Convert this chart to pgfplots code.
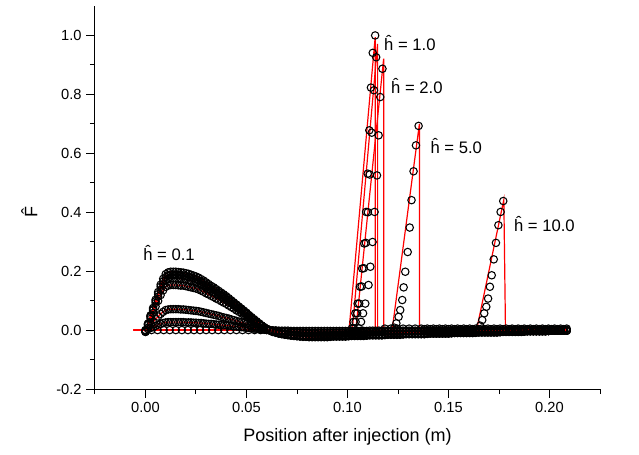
\documentclass[border=0pt]{standalone}
\usepackage{fontspec}
\setmainfont{Liberation Sans}
\usepackage{pgfplots}
\usepackage{pgfplotstable}
\pgfplotsset{compat=1.18}

% low-h curves (h = 0.1 family), same x grid
\pgfplotstableread{
x       a      b      c      d      e      f
0.00000 -0.006 -0.006 -0.005 -0.005 -0.002 -0.001
0.00125 0.022 0.021 0.019 0.017 0.008 0.003
0.00250 0.050 0.047 0.044 0.038 0.018 0.007
0.00375 0.075 0.071 0.067 0.058 0.027 0.010
0.00500 0.103 0.098 0.092 0.080 0.037 0.014
0.00625 0.129 0.122 0.114 0.099 0.046 0.018
0.00750 0.154 0.147 0.137 0.119 0.055 0.021
0.00875 0.174 0.165 0.155 0.135 0.062 0.024
0.01000 0.190 0.180 0.169 0.147 0.068 0.026
0.01125 0.196 0.186 0.174 0.151 0.070 0.027
0.01250 0.198 0.188 0.176 0.153 0.071 0.027
0.01375 0.198 0.188 0.176 0.153 0.071 0.027
0.01500 0.198 0.188 0.176 0.153 0.071 0.027
0.01625 0.197 0.187 0.175 0.152 0.071 0.027
0.01750 0.196 0.186 0.174 0.151 0.070 0.027
0.01875 0.195 0.185 0.173 0.151 0.070 0.027
0.02000 0.193 0.183 0.172 0.149 0.069 0.026
0.02125 0.191 0.181 0.169 0.147 0.068 0.026
0.02250 0.188 0.179 0.167 0.145 0.067 0.026
0.02375 0.185 0.176 0.165 0.143 0.066 0.025
0.02500 0.182 0.173 0.162 0.141 0.065 0.025
0.02625 0.178 0.169 0.158 0.138 0.064 0.024
0.02750 0.173 0.165 0.154 0.134 0.062 0.024
0.02875 0.168 0.160 0.150 0.130 0.060 0.023
0.03000 0.162 0.154 0.144 0.125 0.058 0.022
0.03125 0.156 0.149 0.139 0.121 0.056 0.021
0.03250 0.150 0.143 0.134 0.116 0.054 0.021
0.03375 0.145 0.137 0.128 0.112 0.052 0.020
0.03500 0.139 0.132 0.123 0.107 0.050 0.019
0.03625 0.133 0.126 0.118 0.103 0.048 0.018
0.03750 0.127 0.120 0.113 0.098 0.045 0.017
0.03875 0.121 0.115 0.107 0.093 0.043 0.016
0.04000 0.115 0.109 0.102 0.089 0.041 0.016
0.04125 0.108 0.102 0.096 0.083 0.039 0.015
0.04250 0.101 0.096 0.090 0.078 0.036 0.014
0.04375 0.094 0.089 0.084 0.073 0.034 0.013
0.04500 0.087 0.083 0.077 0.067 0.031 0.012
0.04625 0.080 0.076 0.071 0.062 0.029 0.011
0.04750 0.073 0.070 0.065 0.057 0.026 0.010
0.04875 0.066 0.063 0.059 0.051 0.024 0.009
0.05000 0.059 0.056 0.053 0.046 0.021 0.008
0.05125 0.051 0.049 0.046 0.040 0.018 0.007
0.05250 0.044 0.041 0.039 0.034 0.016 0.006
0.05375 0.037 0.035 0.033 0.028 0.013 0.005
0.05500 0.030 0.028 0.026 0.023 0.011 0.004
0.05625 0.023 0.022 0.020 0.018 0.008 0.003
0.05750 0.016 0.015 0.014 0.012 0.006 0.002
0.05875 0.010 0.009 0.009 0.008 0.004 0.001
0.06000 0.004 0.004 0.004 0.003 0.001 0.001
0.06150 -0.001 -0.001 -0.001 -0.001 0.000 0.000
0.0630 -0.006 -0.006 -0.005 -0.005 -0.002 -0.001
0.0645 -0.009 -0.008 -0.008 -0.007 -0.003 -0.001
0.0660 -0.012 -0.011 -0.011 -0.009 -0.004 -0.002
0.0675 -0.014 -0.013 -0.012 -0.011 -0.005 -0.002
0.0690 -0.016 -0.015 -0.014 -0.012 -0.006 -0.002
0.0705 -0.017 -0.017 -0.015 -0.013 -0.006 -0.002
0.0720 -0.019 -0.018 -0.017 -0.015 -0.007 -0.003
0.0735 -0.020 -0.019 -0.018 -0.015 -0.007 -0.003
0.0750 -0.021 -0.020 -0.018 -0.016 -0.007 -0.003
0.0765 -0.022 -0.021 -0.019 -0.017 -0.008 -0.003
0.0780 -0.023 -0.022 -0.020 -0.018 -0.008 -0.003
0.0795 -0.023 -0.022 -0.021 -0.018 -0.008 -0.003
0.0810 -0.024 -0.023 -0.021 -0.018 -0.009 -0.003
0.0825 -0.024 -0.023 -0.021 -0.018 -0.009 -0.003
0.0840 -0.024 -0.023 -0.021 -0.018 -0.009 -0.003
0.0855 -0.024 -0.023 -0.021 -0.018 -0.009 -0.003
0.0870 -0.024 -0.023 -0.021 -0.018 -0.009 -0.003
0.0885 -0.024 -0.023 -0.021 -0.018 -0.009 -0.003
0.0900 -0.024 -0.023 -0.021 -0.018 -0.009 -0.003
0.0915 -0.023 -0.022 -0.020 -0.018 -0.008 -0.003
0.0930 -0.022 -0.021 -0.019 -0.017 -0.008 -0.003
0.0945 -0.022 -0.021 -0.019 -0.017 -0.008 -0.003
0.0960 -0.022 -0.021 -0.019 -0.017 -0.008 -0.003
0.0975 -0.022 -0.021 -0.019 -0.017 -0.008 -0.003
0.0990 -0.022 -0.021 -0.019 -0.017 -0.008 -0.003
0.1005 -0.021 -0.020 -0.019 -0.016 -0.008 -0.003
0.1020 -0.020 -0.019 -0.018 -0.015 -0.007 -0.003
0.1035 -0.020 -0.019 -0.018 -0.015 -0.007 -0.003
0.1050 -0.020 -0.019 -0.018 -0.015 -0.007 -0.003
0.1065 -0.020 -0.019 -0.018 -0.015 -0.007 -0.003
0.1080 -0.020 -0.019 -0.018 -0.015 -0.007 -0.003
0.1095 -0.019 -0.018 -0.017 -0.015 -0.007 -0.003
0.1110 -0.018 -0.017 -0.016 -0.014 -0.006 -0.002
0.1125 -0.018 -0.017 -0.016 -0.014 -0.006 -0.002
0.1140 -0.018 -0.017 -0.016 -0.014 -0.006 -0.002
0.1155 -0.018 -0.017 -0.016 -0.014 -0.006 -0.002
0.1170 -0.018 -0.017 -0.016 -0.014 -0.006 -0.002
0.1185 -0.017 -0.016 -0.015 -0.013 -0.006 -0.002
0.1200 -0.016 -0.015 -0.014 -0.012 -0.006 -0.002
0.1215 -0.016 -0.015 -0.014 -0.012 -0.006 -0.002
0.1230 -0.016 -0.015 -0.014 -0.012 -0.006 -0.002
0.1245 -0.016 -0.015 -0.014 -0.012 -0.006 -0.002
0.1260 -0.016 -0.015 -0.014 -0.012 -0.006 -0.002
0.1275 -0.015 -0.014 -0.013 -0.012 -0.005 -0.002
0.1290 -0.014 -0.013 -0.012 -0.011 -0.005 -0.002
0.1305 -0.014 -0.013 -0.012 -0.011 -0.005 -0.002
0.1320 -0.014 -0.013 -0.012 -0.011 -0.005 -0.002
0.1335 -0.014 -0.013 -0.012 -0.011 -0.005 -0.002
0.1350 -0.014 -0.013 -0.012 -0.011 -0.005 -0.002
0.1365 -0.014 -0.013 -0.012 -0.011 -0.005 -0.002
0.1380 -0.014 -0.013 -0.012 -0.011 -0.005 -0.002
0.1395 -0.013 -0.012 -0.012 -0.010 -0.005 -0.002
0.1410 -0.012 -0.011 -0.011 -0.009 -0.004 -0.002
0.1425 -0.012 -0.011 -0.011 -0.009 -0.004 -0.002
0.1440 -0.012 -0.011 -0.011 -0.009 -0.004 -0.002
0.1455 -0.012 -0.011 -0.011 -0.009 -0.004 -0.002
0.1470 -0.012 -0.011 -0.011 -0.009 -0.004 -0.002
0.1485 -0.012 -0.011 -0.011 -0.009 -0.004 -0.002
0.1500 -0.012 -0.011 -0.011 -0.009 -0.004 -0.002
0.1515 -0.011 -0.010 -0.010 -0.009 -0.004 -0.002
0.1530 -0.010 -0.009 -0.009 -0.008 -0.004 -0.001
0.1545 -0.010 -0.009 -0.009 -0.008 -0.004 -0.001
0.1560 -0.010 -0.009 -0.009 -0.008 -0.004 -0.001
0.1575 -0.010 -0.009 -0.009 -0.008 -0.004 -0.001
0.1590 -0.010 -0.009 -0.009 -0.008 -0.004 -0.001
0.1605 -0.010 -0.009 -0.009 -0.008 -0.004 -0.001
0.1620 -0.010 -0.009 -0.009 -0.008 -0.004 -0.001
0.1635 -0.009 -0.009 -0.008 -0.007 -0.003 -0.001
0.1650 -0.008 -0.008 -0.007 -0.006 -0.003 -0.001
0.1665 -0.008 -0.008 -0.007 -0.006 -0.003 -0.001
0.1680 -0.008 -0.008 -0.007 -0.006 -0.003 -0.001
0.1695 -0.008 -0.008 -0.007 -0.006 -0.003 -0.001
0.1710 -0.008 -0.008 -0.007 -0.006 -0.003 -0.001
0.1725 -0.008 -0.008 -0.007 -0.006 -0.003 -0.001
0.1740 -0.008 -0.008 -0.007 -0.006 -0.003 -0.001
0.1755 -0.007 -0.007 -0.006 -0.006 -0.003 -0.001
0.1770 -0.006 -0.006 -0.005 -0.005 -0.002 -0.001
0.1785 -0.006 -0.006 -0.005 -0.005 -0.002 -0.001
0.1800 -0.006 -0.006 -0.005 -0.005 -0.002 -0.001
0.1815 -0.006 -0.006 -0.005 -0.005 -0.002 -0.001
0.1830 -0.006 -0.006 -0.005 -0.005 -0.002 -0.001
0.1845 -0.006 -0.006 -0.005 -0.005 -0.002 -0.001
0.1860 -0.006 -0.006 -0.005 -0.005 -0.002 -0.001
0.1875 -0.005 -0.005 -0.005 -0.004 -0.002 -0.001
0.1890 -0.004 -0.004 -0.004 -0.003 -0.001 -0.001
0.1905 -0.004 -0.004 -0.004 -0.003 -0.001 -0.001
0.1920 -0.004 -0.004 -0.004 -0.003 -0.001 -0.001
0.1935 -0.004 -0.004 -0.004 -0.003 -0.001 -0.001
0.1950 -0.004 -0.004 -0.004 -0.003 -0.001 -0.001
0.1965 -0.004 -0.004 -0.004 -0.003 -0.001 -0.001
0.1980 -0.004 -0.004 -0.004 -0.003 -0.001 -0.001
0.1995 -0.003 -0.003 -0.003 -0.003 -0.001 -0.001
0.2010 -0.002 -0.002 -0.002 -0.002 -0.001 0.000
0.2025 -0.002 -0.002 -0.002 -0.002 -0.001 0.000
0.2040 -0.002 -0.002 -0.002 -0.002 -0.001 0.000
0.2055 -0.002 -0.002 -0.002 -0.002 -0.001 0.000
0.2070 -0.002 -0.002 -0.002 -0.002 -0.001 0.000
0.2085 -0.002 -0.002 -0.002 -0.002 -0.001 0.000
}\lowh

\begin{document}
\begin{tikzpicture}
\begin{axis}[
    scale only axis,
    width=378.75pt, height=287.25pt,
    xmin=-0.025, xmax=0.225, ymin=-0.2, ymax=1.1,
    axis x line*=bottom, axis y line*=left,
    axis line style={line width=0.75pt},
    xtick={0,0.05,0.1,0.15,0.2},
    xticklabels={0.00,0.05,0.10,0.15,0.20},
    minor xtick={-0.025,0.025,0.075,0.125,0.175,0.225},
    ytick={-0.2,0,0.2,0.4,0.6,0.8,1.0},
    yticklabels={-0.2,0.0,0.2,0.4,0.6,0.8,1.0},
    minor ytick={-0.1,0.1,0.3,0.5,0.7,0.9},
    tick align=outside,
    major tick length=6.5pt, minor tick length=3.75pt,
    tick style={black, line width=0.75pt},
    tick label style={font=\fontsize{11}{13}\selectfont},
    label style={font=\fontsize{13.5}{15}\selectfont},
    xlabel={Position after injection (m)},
    ylabel={\^{F}},
    xlabel style={at={(axis description cs:0.5,-0.125)}, anchor=center},
    ylabel style={at={(axis description cs:-0.13,0.462)}, anchor=center},
    circ/.style={only marks, mark=o, mark size=2.8pt,
                 mark options={black, line width=0.8pt}},
    fit/.style={red, line width=0.9pt, mark=none},
  ]
% measured points
\addplot[circ] table[x=x, y=a] {\lowh};
\addplot[circ] table[x=x, y=b] {\lowh};
\addplot[circ] table[x=x, y=c] {\lowh};
\addplot[circ] table[x=x, y=d] {\lowh};
\addplot[circ] table[x=x, y=e] {\lowh};
\addplot[circ] table[x=x, y=f] {\lowh};
% baseline of the sharp fronts before they rise
\addplot[circ] coordinates {
  (0,0) (0.003,0) (0.006,0) (0.009,0) (0.012,0) (0.015,0) (0.018,0)
  (0.021,0) (0.024,0) (0.027,0) (0.030,0) (0.033,0) (0.036,0) (0.039,0)
  (0.042,0) (0.045,0) (0.048,0) (0.051,0) (0.054,0) (0.057,0) (0.060,0)
  (0.063,-0.002) (0.066,-0.004) (0.069,-0.006) (0.072,-0.008) (0.075,-0.010)
  (0.078,-0.011) (0.081,-0.012) (0.084,-0.013) (0.087,-0.014) (0.090,-0.014)
  (0.093,-0.014) (0.096,-0.014) (0.099,-0.013)
  (0.102,-0.012) (0.105,-0.012) (0.108,-0.011) (0.111,-0.010) (0.114,-0.009)
  (0.117,-0.007) (0.120,-0.004)
  (0.123,-0.006) (0.126,-0.006) (0.129,-0.005) (0.132,-0.005) (0.135,-0.004)
  (0.138,-0.004) (0.141,-0.003) (0.144,-0.003) (0.147,-0.002) (0.150,-0.002)
  (0.153,-0.001) (0.156,-0.001) (0.159,0.000) (0.162,0.000)};
% h = 1.0
\addplot[circ] coordinates {
  (0.1010,-0.008) (0.1022,0.006) (0.1030,0.028) (0.1039,0.057) (0.1050,0.090)
  (0.1062,0.147) (0.1073,0.209) (0.1083,0.294) (0.1092,0.401) (0.1100,0.531)
  (0.1108,0.678) (0.1116,0.823) (0.1125,0.941) (0.1137,1.000)};
\addplot[circ] coordinates {
  (0.1020,-0.008) (0.1031,0.006) (0.1040,0.028) (0.1048,0.057) (0.1058,0.090)
  (0.1070,0.148) (0.1081,0.210) (0.1091,0.296) (0.1101,0.400) (0.1110,0.528)
  (0.1120,0.670) (0.1131,0.814) (0.1142,0.926)};
% h = 2.0
\addplot[circ] coordinates {
  (0.1045,-0.006) (0.1057,0.006) (0.1067,0.028) (0.1077,0.057) (0.1088,0.090)
  (0.1104,0.153) (0.1113,0.215) (0.1124,0.299) (0.1134,0.401) (0.1146,0.525)
  (0.1154,0.661) (0.1162,0.791) (0.1173,0.887)};
\addplot[circ] coordinates {
  (0.1185,0.005) (0.1215,0.005) (0.1245,0.005) (0.1275,0.005) (0.1305,0.005)
  (0.1335,0.005) (0.1365,0.005) (0.1395,0.005) (0.1425,0.005) (0.1455,0.005)
  (0.1485,0.005) (0.1515,0.005) (0.1545,0.005) (0.1575,0.005) (0.1605,0.005)
  (0.1635,0.005) (0.1665,0.005) (0.1695,0.005) (0.1725,0.005) (0.1755,0.005)
  (0.1785,0.005) (0.1815,0.005) (0.1845,0.005) (0.1875,0.005) (0.1905,0.005)
  (0.1935,0.005) (0.1965,0.005) (0.1995,0.005) (0.2025,0.005) (0.2055,0.005)
  (0.2085,0.005)};
% h = 5.0
\addplot[circ] coordinates {
  (0.1232,0.008) (0.1242,0.023) (0.1253,0.045) (0.1261,0.068) (0.1271,0.102)
  (0.1278,0.145) (0.1286,0.198) (0.1298,0.265) (0.1308,0.348) (0.1317,0.441)
  (0.1327,0.539) (0.1339,0.627) (0.1352,0.693)
  (0.138,0.003) (0.141,0.003) (0.144,0.003) (0.147,0.003) (0.150,0.003)
  (0.153,0.003) (0.156,0.003) (0.159,0.003) (0.162,0.003) (0.165,0.003)
  (0.168,0.003) (0.171,0.003) (0.174,0.003) (0.177,0.003) (0.180,0.003)
  (0.183,0.003) (0.186,0.003) (0.189,0.003) (0.192,0.003) (0.195,0.003)
  (0.198,0.003) (0.201,0.003) (0.204,0.003) (0.207,0.003)};
% h = 10.0
\addplot[circ] coordinates {
  (0.1657,0.015) (0.1667,0.034) (0.1677,0.057) (0.1687,0.079) (0.1696,0.107)
  (0.1705,0.147) (0.1714,0.186) (0.1724,0.240) (0.1735,0.296) (0.1747,0.356)
  (0.1758,0.401) (0.1771,0.438)
  (0.181,0.002) (0.184,0.002) (0.187,0.002) (0.190,0.002) (0.193,0.002)
  (0.196,0.002) (0.199,0.002) (0.202,0.002) (0.205,0.002) (0.208,0.002)};

% model lines
\addplot[fit] table[x=x, y=a] {\lowh};
\addplot[fit] table[x=x, y=b] {\lowh};
\addplot[fit] table[x=x, y=c] {\lowh};
\addplot[fit] table[x=x, y=d] {\lowh};
\addplot[fit] table[x=x, y=e] {\lowh};
\addplot[fit] table[x=x, y=f] {\lowh};
\addplot[fit] coordinates {(-0.006,0) (0.060,0) (0.080,-0.010) (0.1005,-0.020)
  (0.1137,0.994) (0.1137,0.005) (0.209,0.005)};
\addplot[fit] coordinates {(-0.006,0) (0.060,0) (0.080,-0.010) (0.1021,-0.020)
  (0.1149,0.971) (0.1149,0.005) (0.209,0.005)};
\addplot[fit] coordinates {(-0.006,0) (0.060,0) (0.080,-0.010) (0.1038,-0.020)
  (0.1179,0.921) (0.1179,0.005) (0.209,0.005)};
\addplot[fit] coordinates {(-0.006,0) (0.060,0) (0.080,-0.010) (0.100,-0.015)
  (0.122,-0.005) (0.1356,0.700) (0.1356,0.004) (0.209,0.004)};
\addplot[fit] coordinates {(-0.006,0) (0.060,0) (0.080,-0.010) (0.100,-0.015)
  (0.130,-0.008) (0.1638,-0.003) (0.1774,0.443) (0.1782,0.003) (0.209,0.003)};

\begin{scope}[every node/.style={anchor=base west, inner sep=0pt,
    font=\fontsize{12.5}{14}\selectfont}]
\node at (axis cs:-0.0012,0.237) {ĥ = 0.1};
\node at (axis cs:0.1180,0.949) {ĥ = 1.0};
\node at (axis cs:0.1215,0.802) {ĥ = 2.0};
\node at (axis cs:0.1410,0.599) {ĥ = 5.0};
\node at (axis cs:0.1823,0.333) {ĥ = 10.0};
\end{scope}
\end{axis}
\pgfresetboundingbox
\path ([xshift=-71.25pt,yshift=-48.75pt]current axis.south west)
  rectangle ([xshift=29.25pt,yshift=4.5pt]current axis.north east);
\end{tikzpicture}
\end{document}
